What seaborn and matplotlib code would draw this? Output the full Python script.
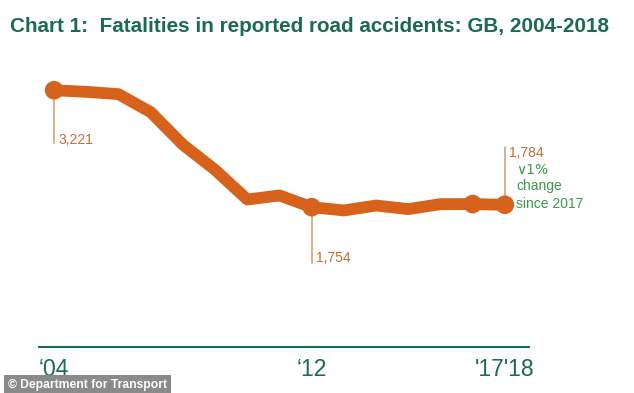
import matplotlib
matplotlib.use("Agg")
import matplotlib.pyplot as plt
import seaborn as sns
import pandas as pd

years = [2004, 2005, 2006, 2007, 2008, 2009, 2010, 2011, 2012, 2013, 2014, 2015, 2016, 2017, 2018]
fatalities = [3221, 3201, 3172, 2946, 2538, 2222, 1850, 1901, 1754, 1713, 1775, 1730, 1792, 1793, 1784]
marker_years = [2004, 2012, 2017, 2018]
tick_years = [2004, 2012, 2018]
tick_labels = ["\u201804", "\u201812", "'17'18"]
title = "Chart 1:  Fatalities in reported road accidents: GB, 2004-2018"

sns.set_theme(style="white")
plt.rcParams['font.family'] = ['Liberation Sans', 'DejaVu Sans']

df = pd.DataFrame({"year": years, "deaths": fatalities})
mk = df[df["year"].isin(marker_years)]

LINE = "#d6621c"
LEAD = "#d9a070"
LAB = "#c96a30"
GREEN = "#3a9b45"
DGREEN = "#1a6b4f"

fig = plt.figure(figsize=(6.34, 3.93), dpi=100)
ax = fig.add_axes([39/634, 46/393, 490/634, 279/393])

sns.lineplot(data=df, x="year", y="deaths", ax=ax, color=LINE, linewidth=8.5,
             solid_capstyle="round", solid_joinstyle="round", zorder=3)
sns.scatterplot(data=mk, x="year", y="deaths", ax=ax, color=LINE, s=180,
                edgecolor="none", zorder=4)

ax.set_xlim(2003.53, 2018.75)
ax.set_ylim(0, 3500)

def lead(year, y0, y1):
    ax.plot([year, year], [y0, y1], color=LEAD, linewidth=1.2, zorder=2)

v04 = fatalities[years.index(2004)]
v12 = fatalities[years.index(2012)]
v18 = fatalities[years.index(2018)]
lead(2004, v04, v04 - 660)
ax.text(2004 + 0.12, v04 - 620, f"{v04:,}", color=LAB, fontsize=10, va="center", ha="left")
lead(2012, v12, v12 - 700)
ax.text(2012 + 0.12, v12 - 640, f"{v12:,}", color=LAB, fontsize=10, va="center", ha="left")
lead(2018, v18, v18 + 730)
ax.text(2018 + 0.12, v18 + 650, f"{v18:,}", color=LAB, fontsize=10, va="center", ha="left")
ax.text(2018 + 0.35, v18 + 440, "\u22281%", color=GREEN, fontsize=10, va="center", ha="left",
        family=['DejaVu Sans'])
ax.text(2018 + 0.35, v18 + 240, "change", color=GREEN, fontsize=10, va="center", ha="left")
ax.text(2018 + 0.35, v18 + 15, "since 2017", color=GREEN, fontsize=10, va="center", ha="left")

ax.set_xticks(tick_years)
ax.set_xticklabels(tick_labels, fontsize=16.5, color=DGREEN)
ax.set_yticks([])
ax.set_xlabel("")
ax.set_ylabel("")
ax.tick_params(axis="x", length=0, pad=8)
for s in ["top", "left", "right"]:
    ax.spines[s].set_visible(False)
ax.spines["bottom"].set_color(DGREEN)
ax.spines["bottom"].set_linewidth(1.5)

fig.text(10/634, 1 - 27/393, title, fontsize=14.9, fontweight="bold", color=DGREEN,
         va="center", ha="left")
fig.text(8/634, 1 - 385/393, "\u00a9 Department for Transport", fontsize=8.7,
         fontweight="bold", color="white", va="center", ha="left",
         bbox=dict(boxstyle="square,pad=0.3", facecolor="#8a8a8a", edgecolor="none"))

fig.savefig("out.png", dpi=100)
